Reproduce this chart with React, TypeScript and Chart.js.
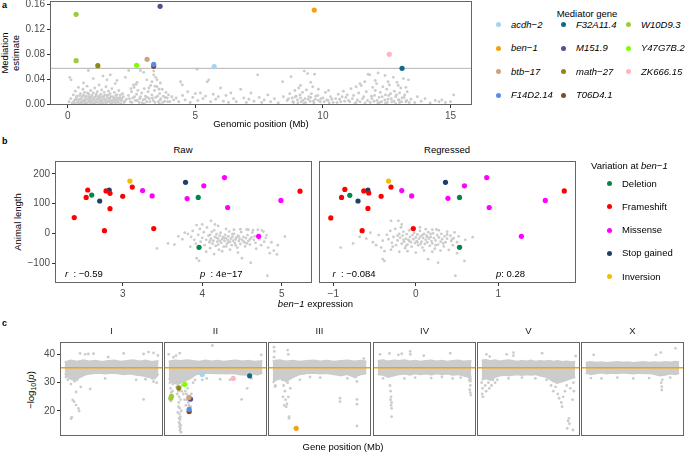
import React, { useEffect, useRef } from "react";
import { Chart, registerables } from "chart.js";
Chart.register(...registerables);

type Pt = [number, number];
const FONT = "'Liberation Sans', Arial, Helvetica, sans-serif";
const GREY = "#cccccc";
const TICK_TXT = "#4d4d4d";
const BORDER = "#666666";

// ---------------- Panel a data ----------------
const mediatorGenes = ["acdh−2", "ben−1", "btb−17", "F14D2.14", "F32A11.4", "M151.9", "math−27", "T06D4.1", "W10D9.3", "Y47G7B.2", "ZK666.15"];
const mediatorColors = ["#a6d4ef", "#f5a10f", "#c9a47e", "#5a8ee6", "#0e6b86", "#5c4b91", "#8b8b12", "#8b4526", "#9bcb3b", "#7fff00", "#ffb5c0"];

const mediationHitGene = ["W10D9.3", "W10D9.3", "M151.9", "ben−1", "math−27", "Y47G7B.2", "btb−17", "F14D2.14", "T06D4.1", "acdh−2", "ZK666.15", "F32A11.4"];
const mediationHitPos = [0.33, 0.33, 3.62, 9.66, 1.18, 2.7, 3.11, 3.37, 3.37, 5.74, 12.6, 13.1];
const mediationHitEst = [0.1436, 0.0696, 0.1563, 0.1504, 0.0616, 0.0622, 0.0718, 0.0638, 0.0606, 0.06, 0.0797, 0.0574];
const mediationThreshold = 0.0574;
const mediationXTicks = [0, 5, 10, 15];
const mediationYTicks = [0, 0.04, 0.08, 0.12, 0.16];

const mediationGrey: Pt[] = [
  [0.05,0.004],[0.12,0.009],[0.18,0.002],[0.22,0.015],[0.26,0.006],[0.3,0.021],[0.34,0.011],[0.38,0.003],[0.42,0.027],[0.45,0.008],[0.5,0.017],[0.53,0.004],[0.57,0.012],[0.6,0.024],[0.63,0.007],[0.66,0.019],[0.7,0.002],[0.73,0.013],[0.76,0.029],[0.8,0.009],[0.83,0.016],[0.86,0.005],[0.9,0.022],[0.93,0.011],[0.96,0.003],[1.0,0.018],[1.03,0.008],[1.06,0.026],[1.1,0.013],[1.13,0.004],[1.16,0.02],[1.2,0.01],[1.23,0.031],[1.26,0.006],[1.3,0.016],[1.33,0.023],[1.36,0.003],[1.4,0.012],[1.43,0.019],[1.46,0.007],[1.5,0.028],[1.53,0.014],[1.56,0.005],[1.6,0.021],[1.63,0.01],[1.66,0.017],[1.7,0.003],[1.73,0.025],[1.76,0.012],[1.8,0.007],[1.83,0.019],[1.86,0.033],[1.9,0.009],[1.93,0.015],[1.96,0.004],[2.0,0.022],[2.05,0.011],[2.1,0.006],[2.15,0.017],[2.2,0.003],
  [0.08,0.043],[0.13,0.039],[0.62,0.034],[0.81,0.054],[1.0,0.041],[1.38,0.045],[1.54,0.039],[1.67,0.047],[1.93,0.038],
  [0.28,0.001],[0.48,0.002],[0.68,0.006],[0.88,0.001],[1.08,0.002],[1.28,0.001],[1.48,0.003],[1.68,0.001],[1.88,0.002],[2.08,0.001],
  [0.24,0.004],[0.32,0.008],[0.36,0.013],[0.4,0.006],[0.44,0.002],[0.47,0.014],[0.52,0.009],[0.55,0.001],[0.59,0.005],[0.62,0.015],[0.65,0.003],[0.69,0.011],[0.72,0.007],[0.75,0.002],[0.78,0.018],[0.82,0.004],[0.85,0.012],[0.88,0.008],[0.92,0.004],[0.95,0.014],[0.98,0.007],[1.02,0.002],[1.05,0.011],[1.09,0.005],[1.12,0.016],[1.15,0.008],[1.18,0.003],[1.22,0.013],[1.25,0.009],[1.29,0.004],[1.32,0.012],[1.35,0.007],[1.39,0.002],[1.42,0.009],[1.45,0.014],[1.49,0.006],[1.52,0.002],[1.55,0.01],[1.59,0.015],[1.62,0.004],[1.65,0.008],[1.69,0.012],[1.72,0.006],[1.75,0.002],[1.79,0.011],[1.82,0.004],[1.85,0.009],[1.89,0.014],[1.92,0.006],[1.95,0.01],[1.99,0.003],[2.02,0.008],[2.06,0.015],[2.12,0.009],[2.18,0.012],[2.24,0.005],
  [2.3,0.008],[2.38,0.014],[2.45,0.004],[2.5,0.02],[2.55,0.01],[2.6,0.027],[2.65,0.006],[2.7,0.016],[2.75,0.022],[2.8,0.003],[2.85,0.012],[2.9,0.018],[2.95,0.007],[3.0,0.025],[3.05,0.013],[3.1,0.004],[3.15,0.02],[3.2,0.009],[3.25,0.03],[3.3,0.015],[3.35,0.006],[3.4,0.022],[3.45,0.011],[3.5,0.028],[3.55,0.004],[3.6,0.017],[3.65,0.009],[3.7,0.024],[3.75,0.013],[3.8,0.005],[3.85,0.019],[3.9,0.01],[3.95,0.015],[4.0,0.004],[4.08,0.012],[4.15,0.007],[3.0,0.001],[3.6,0.001],
  [2.42,0.009],[2.52,0.003],[2.62,0.012],[2.72,0.006],[2.82,0.009],[2.92,0.002],[3.02,0.008],[3.12,0.011],[3.22,0.004],[3.32,0.01],[3.42,0.003],[3.52,0.013],[3.62,0.007],[3.72,0.003],[3.82,0.011],[3.92,0.004],[2.48,0.025],[2.68,0.032],[3.18,0.026],[3.58,0.024],[3.42,0.029],
  [2.26,0.043],[2.39,0.054],[2.58,0.031],[2.85,0.054],[2.98,0.051],[3.1,0.039],[3.37,0.053],[3.37,0.047],[3.45,0.043],[3.5,0.039],[3.63,0.034],[3.3,0.036],[2.72,0.035],
  [4.25,0.01],[4.35,0.004],[4.42,0.036],[4.49,0.031],[4.5,0.014],[4.6,0.007],[4.7,0.02],[4.8,0.003],[4.9,0.011],[5.0,0.017],[5.07,0.056],[5.1,0.006],[5.2,0.018],[5.3,0.009],[5.4,0.013],[5.47,0.036],[5.53,0.039],[5.6,0.004],[5.7,0.016],[5.8,0.008],[5.9,0.012],[5.99,0.026],[6.1,0.005],[6.2,0.014],[6.3,0.003],[6.39,0.018],[6.5,0.009],
  [6.6,0.004],[6.78,0.024],[6.9,0.01],[7.0,0.003],[7.1,0.008],[7.18,0.018],[7.3,0.005],[7.44,0.047],[7.5,0.011],[7.6,0.003],[7.7,0.007],[7.84,0.015],[7.95,0.004],[8.1,0.009],[8.25,0.002],[8.42,0.036],[8.45,0.012],
  [8.6,0.006],[8.7,0.017],[8.75,0.044],[8.8,0.01],[8.85,0.003],[8.9,0.022],[8.95,0.013],[9.0,0.007],[9.05,0.026],[9.1,0.015],[9.15,0.004],[9.2,0.019],[9.27,0.053],[9.3,0.009],[9.35,0.023],[9.4,0.049],[9.45,0.012],[9.5,0.005],[9.55,0.017],[9.6,0.028],[9.67,0.048],[9.7,0.008],[9.8,0.014],[9.9,0.004],[10.0,0.01],[10.1,0.019],[10.2,0.006],[10.3,0.012],[10.4,0.003],[9.25,0.001],[9.65,0.002],
  [8.65,0.009],[8.82,0.004],[8.92,0.012],[9.02,0.002],[9.12,0.01],[9.22,0.006],[9.32,0.003],[9.42,0.008],[9.52,0.011],[9.62,0.005],[9.72,0.013],[9.82,0.006],[9.92,0.009],[10.05,0.004],[10.15,0.007],[10.25,0.002],[10.35,0.008],[9.12,0.03],[9.52,0.035],[9.82,0.024],[10.22,0.022],
  [10.5,0.009],[10.6,0.016],[10.7,0.004],[10.8,0.021],[10.9,0.011],[11.0,0.006],[11.1,0.025],[11.2,0.014],[11.3,0.003],[11.4,0.018],[11.5,0.03],[11.55,0.009],[11.64,0.036],[11.7,0.02],[11.77,0.048],[11.83,0.047],[11.9,0.013],[11.95,0.027],[12.0,0.005],[12.05,0.022],[12.1,0.033],[12.16,0.05],[12.2,0.011],[12.25,0.019],[12.3,0.004],[12.35,0.028],[12.43,0.046],[12.45,0.015],[12.5,0.024],[12.55,0.008],[12.6,0.031],[12.65,0.017],[12.7,0.004],[12.76,0.043],[12.8,0.021],[12.85,0.012],[12.9,0.035],[12.95,0.007],[13.0,0.018],[13.05,0.026],[13.1,0.01],[13.15,0.041],[13.2,0.015],[13.25,0.004],[13.35,0.039],[13.3,0.02],
  [10.55,0.003],[10.65,0.008],[10.75,0.012],[10.85,0.005],[10.95,0.015],[11.05,0.004],[11.15,0.009],[11.35,0.007],[11.45,0.004],[11.6,0.012],[11.75,0.006],[11.85,0.003],[11.92,0.009],[12.02,0.014],[12.12,0.006],[12.22,0.003],[12.32,0.012],[12.42,0.007],[12.52,0.003],[12.58,0.014],[12.68,0.009],[12.78,0.005],[12.88,0.015],[12.98,0.007],[13.08,0.004],[13.18,0.011],[13.28,0.006],[13.38,0.003],[11.3,0.028],[11.45,0.033],[12.05,0.038],[12.55,0.036],[12.95,0.03],[13.25,0.027],
  [11.25,0.001],[11.65,0.002],[12.15,0.001],[12.45,0.002],[12.85,0.001],[13.0,0.003],
  [13.45,0.008],[13.6,0.003],[13.7,0.012],[13.85,0.005],[14.0,0.009],[14.2,0.002],[14.4,0.006],[14.55,0.004],[14.66,0.007],[14.8,0.003],[15.12,0.015],[15.0,0.004],
];

// ---------------- Panel b data ----------------
const variationTypes = ["Deletion", "Frameshift", "Missense", "Stop gained", "Inversion"];
const variationColors = ["#00884a", "#ff0000", "#ff00ff", "#1f3f6b", "#f0c000"];

const rawDeletion: Pt[] = [[2.61,129],[3.95,121],[3.96,-47]];
const rawFrameshift: Pt[] = [[2.39,53],[2.54,121],[2.56,146],[2.77,9],[2.79,143],[2.84,135],[2.84,83],[3.12,156],[3.0,125],[3.39,16],[5.23,142]];
const rawMissense: Pt[] = [[3.25,144],[3.37,126],[3.81,117],[4.02,160],[4.28,188],[4.32,87],[4.71,-10],[4.99,111]];
const rawStop: Pt[] = [[2.71,109],[2.83,146],[3.79,172]];
const rawInversion: Pt[] = [[3.09,176]];

const regDeletion: Pt[] = [[-0.8,128],[0.53,121],[0.53,-47]];
const regFrameshift: Pt[] = [[-1.03,52],[-0.9,121],[-0.86,148],[-0.65,9],[-0.63,143],[-0.57,136],[-0.58,84],[-0.3,156],[-0.42,125],[-0.03,16],[1.8,143]];
const regMissense: Pt[] = [[-0.17,144],[-0.05,126],[0.39,118],[0.59,160],[0.86,188],[0.89,87],[1.28,-10],[1.57,111]];
const regStop: Pt[] = [[-0.7,109],[-0.58,146],[0.36,172]];
const regInversion: Pt[] = [[-0.33,176]];

const rawGrey: Pt[] = [
  [3.43,-51],[3.57,-34],[3.78,2],[3.93,28],[4.11,42],[4.16,30],[3.93,-84],[3.96,-93],[4.5,-84],[4.61,-99],[4.82,-143],[4.85,-67],[4.94,-71],[5.04,-11],[4.77,6],[4.81,-6],[4.64,11],[4.56,13],
  [3.82,-2],[3.86,-12],[3.88,8],[3.9,-22],[3.92,-35],[3.95,-5],[3.97,15],[3.98,-28],[4.0,-15],[4.02,4],[4.03,-40],[4.05,-22],[4.06,20],[4.08,-8],[4.09,-30],[4.1,-50],[4.11,-18],[4.12,5],[4.13,-35],[4.14,-25],[4.15,10],[4.16,-12],[4.17,-42],[4.18,-3],[4.19,-28],[4.2,-18],[4.21,-55],[4.22,-8],[4.23,2],[4.24,-32],[4.25,-20],[4.26,-12],[4.27,-45],[4.28,-25],[4.29,-5],[4.3,-16],[4.31,-35],[4.32,-22],[4.33,-10],[4.34,6],[4.35,-28],[4.36,-18],[4.37,-40],[4.38,-12],[4.39,-25],[4.4,-2],[4.41,-32],[4.42,-20],[4.43,-14],[4.44,-48],[4.45,-8],[4.46,-26],[4.47,-18],[4.48,-36],[4.49,4],[4.5,-22],[4.52,-12],[4.53,-30],[4.54,-44],[4.55,-16],[4.57,-6],[4.58,-26],[4.6,-38],[4.62,-14],[4.63,3],[4.65,-22],[4.67,-32],[4.68,-52],[4.7,-8],[4.72,-20],[4.74,-40],[4.75,10],[4.78,-28],[4.8,-15],[4.83,-48],[4.87,-30],[4.9,-58],[4.95,-40],
  [4.05,-62],[4.15,-70],[4.25,-60],[4.35,-55],[4.45,-65],[3.85,-45],[3.75,-20],[3.7,-10],[3.65,-38],[4.0,30],[4.2,25],[4.3,15],[4.4,12],[4.48,14],[4.58,12],[4.7,12],[4.2,-38],[4.3,-44],[4.1,-5],[4.22,-26],[4.28,-15],[4.33,-30],[4.38,-3],[4.42,-40],[4.46,-10],[4.52,-28],[4.56,-34],[4.6,-20],[4.66,-10],[4.1,-25],[4.18,-15],
];
const regGrey: Pt[] = [
  [-0.91,-48],[-0.76,-34],[-0.55,2],[-0.45,-6],[-0.4,-87],[-0.38,-93],[-0.3,42],[-0.21,42],[-0.17,30],[0.15,-87],[0.27,-99],[0.48,-143],[0.5,-67],[0.59,-93],[0.69,-13],[0.47,3],[0.25,13],[0.38,6],[-0.52,-30],[-0.6,-18],[-0.68,-12],[-0.48,-40],
  [-0.35,-5],[-0.33,-20],[-0.31,8],[-0.29,-32],[-0.27,-12],[-0.25,15],[-0.24,-40],[-0.22,-24],[-0.2,-2],[-0.19,-15],[-0.18,20],[-0.17,-35],[-0.16,-8],[-0.15,5],[-0.14,-28],[-0.13,-50],[-0.12,-18],[-0.11,-3],[-0.1,-38],[-0.09,-22],[-0.08,10],[-0.07,-12],[-0.06,-30],[-0.05,-45],[-0.04,-6],[-0.03,-20],[-0.02,2],[-0.01,-33],[0.0,-14],[0.01,-26],[0.02,-4],[0.03,-40],[0.04,-18],[0.05,8],[0.06,-10],[0.07,-28],[0.08,-48],[0.09,-16],[0.1,-2],[0.11,-36],[0.12,-22],[0.13,-8],[0.14,-30],[0.15,4],[0.16,-18],[0.17,-42],[0.18,-12],[0.19,-26],[0.2,-34],[0.21,0],[0.22,-16],[0.23,-52],[0.24,-24],[0.26,-6],[0.27,-38],[0.28,-14],[0.3,-28],[0.31,-2],[0.32,-20],[0.34,-44],[0.35,-10],[0.36,-30],[0.38,-18],[0.4,-56],[0.42,-8],[0.43,-26],[0.45,-40],[0.46,-16],[0.5,-30],[0.52,-10],[0.55,-45],[0.6,-22],
  [-0.4,-25],[-0.42,-48],[-0.38,-60],[-0.3,-55],[-0.2,-62],[-0.1,-60],[0.0,-65],[0.1,-58],[0.2,-62],[0.3,-58],[-0.05,15],[0.05,20],[0.12,14],[0.2,12],[0.28,10],[-0.28,-45],[-0.22,-8],[-0.15,-22],[-0.08,-26],[0.02,-30],[0.08,-6],[0.14,-12],[0.18,-2],[0.24,-40],[0.33,-34],[0.38,-4],[0.44,-20],[-0.12,-42],[0.06,-36],
];
const rawXTicks = [3, 4, 5];
const regXTicks = [-1, 0, 1];
const lengthYTicks = [-100, 0, 100, 200];

// ---------------- Panel c data ----------------
const chromosomes = ["I", "II", "III", "IV", "V", "X"];
const chromLengths = [15.07, 15.28, 13.78, 17.49, 20.92, 17.72];
const pThreshold = 35.3;
const pYTicks = [20, 30, 40];

const bandUpperI: Pt[] = [[0,37.2],[1,37.8],[2,37.4],[3,37.9],[4,37.5],[5,37.7],[6,37.3],[7,37.6],[8,37.8],[9,37.4],[10,37.6],[11,37.9],[12,37.5],[13,37.8],[14,37.3],[15.1,37.6]];
const bandLowerI: Pt[] = [[0,33.2],[0.8,31.5],[1.5,31.0],[2.5,32.0],[3.5,33.0],[4.5,33.3],[5.5,33.5],[6.5,33.2],[7.5,33.5],[8.5,33.3],[9.5,33.0],[10.5,33.2],[11.5,32.8],[12.5,32.5],[13.5,32.0],[14.5,31.5],[15.1,33.0]];
const bandUpperII: Pt[] = [[0,37.5],[1,37.8],[2,37.6],[3,37.9],[4,37.6],[5,37.4],[6,37.8],[7,37.5],[8,37.7],[9,37.4],[10,37.6],[11,37.8],[12,37.5],[13,37.7],[14,37.4],[15.3,37.6]];
const bandLowerII: Pt[] = [[0,31.5],[0.6,30],[1.5,29.5],[2.5,30.5],[3.5,31.5],[4.5,33],[5.5,33.3],[6.5,33.5],[7.5,33.3],[8.5,33.4],[9.5,33.2],[10.5,33.4],[11.5,33.0],[12.5,32.8],[13.5,33.2],[14.5,33.0],[15.3,33.4]];
const bandUpperIII: Pt[] = [[0,37.6],[1,37.9],[2,37.5],[3,37.7],[4,37.4],[5,37.6],[6,37.8],[7,37.5],[8,37.7],[9,37.4],[10,37.6],[11,37.8],[12,37.5],[13,37.7],[13.8,37.5]];
const bandLowerIII: Pt[] = [[0,30],[0.5,31],[1.2,31.5],[2,30.5],[3,32],[4,33],[5,33.3],[6,33.5],[7,33.2],[8,33.4],[9,33.0],[10,32.5],[11,33.0],[12,32.0],[13,33.0],[13.8,33.3]];
const bandUpperIV: Pt[] = [[0,37.6],[1,37.9],[2,37.5],[3,37.8],[4,37.6],[5,37.9],[6,37.5],[7,37.7],[8,37.4],[9,37.6],[10,37.8],[11,37.5],[12,37.7],[13,37.4],[14,37.6],[15,37.8],[16,37.5],[17.5,37.6]];
const bandLowerIV: Pt[] = [[0,33],[1,32.8],[2,32.0],[3,32.5],[4,33],[5,33.2],[6,32.8],[7,33.3],[8,33],[9,33.2],[10,32.9],[11,33.3],[12,33.0],[13,33.2],[14,32.8],[15,33.0],[16,32.5],[17,32.0],[17.5,31]];
const bandUpperV: Pt[] = [[0,37.8],[1,38],[2,37.6],[3,37.9],[4,37.5],[5,37.7],[6,37.9],[7,37.6],[8,37.4],[9,37.7],[10,37.5],[11,37.8],[12,37.4],[13,37.6],[14,37.5],[15,37.7],[16,37.4],[17,37.6],[18,37.3],[19,37.5],[20,37.2],[20.9,37.4]];
const bandLowerV: Pt[] = [[0,31],[1,31.5],[2,31.0],[3,32.0],[4,32.5],[5,32.8],[6,32.5],[7,32.8],[8,33.0],[9,32.7],[10,33.0],[11,32.8],[12,33.0],[13,32.5],[14,32.2],[15,31.5],[16,30.5],[17,30.0],[18,30.5],[19,31.0],[20,31.5],[20.9,32]];
const bandUpperX: Pt[] = [[0,37.0],[1,37.3],[2,37.0],[3,37.2],[4,36.9],[5,37.1],[6,37.3],[7,37.0],[8,37.2],[9,36.9],[10,37.1],[11,37.3],[12,37.0],[13,37.2],[14,37.0],[15,37.3],[16,37.1],[17,37.4],[17.7,37.2]];
const bandLowerX: Pt[] = [[0,33.5],[1,33.0],[2,33.3],[3,33.6],[4,33.2],[5,33.5],[6,33.3],[7,33.6],[8,33.4],[9,33.2],[10,33.5],[11,33.3],[12,33.4],[13,33.0],[14,32.5],[15,32.8],[16,33.2],[17,33.0],[17.7,33.4]];

const outliersI: Pt[] = [[1.13,17.8],[1.03,17.3],[1.29,23.9],[1.51,23.3],[1.83,22.1],[2.21,20.9],[2.32,20.0],[1.83,26.7],[2.6,28.5],[4.1,27.8],[1.0,29.5],[1.6,30.5],[2.0,31.0],[12.7,24.1],[14.1,31.5],[14.3,30.4],[2.48,40.3],[3.29,40.0],[3.8,40.1],[4.64,40.2],[9.49,40.3],[12.7,40.1],[13.5,40.8],[14.3,40.5],[15.0,39.6],[7.0,39.0],[11.5,31.0],[13.0,31.2],[6.5,31.5],[0.5,31.0],[0.2,32.0],[14.8,30.0]];
const outliersII: Pt[] = [[1.55,29],[1.6,27],[1.7,25],[1.65,23],[1.8,21],[1.75,19],[1.9,18],[1.85,17],[1.7,16],[1.8,15.5],[1.95,15],[1.75,14.5],[1.9,14],[1.85,13.2],[2.0,12.5],[1.7,17.5],[2.05,20],[1.6,21.5],[1.5,19.5],[1.95,24],[2.1,27],[1.4,26],[1.3,28.5],[2.2,29],[0.2,30],[0.3,28],[0.4,26.5],[0.5,25],[0.35,23.5],[0.6,27],[0.7,29.5],[1.0,31],[1.2,30],[2.5,31],[2.7,27],[2.9,26],[3.0,24],[3.2,23],[3.3,22],[3.4,21],[3.5,19.5],[3.6,21.5],[3.7,26],[3.1,28],[4.0,30],[4.3,31],[2.4,26],[2.6,24],[2.8,22],[0.01,40],[1.81,40.4],[7.13,43.1],[15.1,39.8],[11.9,24.1],[12.8,28],[10,31],[5.5,31],[6.2,31.5],[8.4,31.2],[13.5,31.5],[0.8,39],[1.2,39.5],[14.5,33]];
const outliersIII: Pt[] = [[0.2,42.5],[0.25,41],[2.2,41.5],[2.3,40],[0.2,39],[0.3,37],[0.25,34],[0.3,31],[0.4,29],[0.35,28.6],[0.5,32],[1.2,33],[1.4,31],[1.6,29],[1.8,27],[1.5,25],[1.9,24],[2.1,22.5],[2.0,21.5],[2.4,17.4],[2.4,18],[2.3,25],[2.6,28],[2.2,30],[1.7,22],[9.9,24.5],[9.9,23.3],[12.4,30.4],[12.4,24.1],[12.4,22.4],[12.4,14.7],[12.2,32],[11,31.5],[7,31.8],[5.5,32],[4,31],[13.4,38.5]];
const outliersIV: Pt[] = [[0.44,40],[2.2,40.3],[3.87,39.8],[4.5,40.2],[6.06,41],[6.1,40],[13.56,40.4],[8.6,39.5],[2.3,29],[2.4,27],[2.5,25],[2.6,23],[2.5,22],[2.6,20.9],[2.6,18],[2.4,24],[17.3,32],[17.3,30.5],[17.3,29],[17.2,27.5],[17.3,26.5],[17.4,25.6],[17.1,31],[5,31.5],[7,31.8],[10,31.6],[12,32],[14,31.5],[15.5,31.8],[1,31.5]];
const outliersV: Pt[] = [[1.06,40],[1.8,39.2],[5.6,40],[7.1,40.6],[7.1,39.5],[13.5,40.4],[21,39.4],[0.0,30],[0.2,28],[0.1,26],[0.3,25],[0.8,29],[1.0,27],[1.5,30],[1.7,28],[2.2,29],[2.5,31],[3,30],[3.5,31],[15.5,29],[16,27],[16.5,28.5],[17,26],[17.3,24.5],[17.8,23],[17.97,21.5],[18.2,25],[18.6,27],[19,29],[19.5,17.4],[19.3,16.5],[19.6,15.5],[19.1,13.9],[20.4,13.3],[20.3,24],[20.6,27],[20.5,30],[19.8,28],[16.8,30],[14.5,31],[12,31.5],[9,31.8],[6,31.5]];
const outliersX: Pt[] = [[1.5,39.8],[13.3,39.8],[14.2,40.6],[17.0,42.1],[14.4,27.4],[14.4,28.6],[14.3,30],[14.5,31],[3,31.5],[6,31.8],[9,31.5],[12,31.6],[16,31.8],[1,31.6]];

const bandUpper = [bandUpperI, bandUpperII, bandUpperIII, bandUpperIV, bandUpperV, bandUpperX];
const bandLower = [bandLowerI, bandLowerII, bandLowerIII, bandLowerIV, bandLowerV, bandLowerX];
const chromOutliers = [outliersI, outliersII, outliersIII, outliersIV, outliersV, outliersX];

const geneHitChrom = ["II", "II", "II", "II", "II", "II", "II", "II", "II", "II", "II", "III"];
const geneHitGene = ["acdh−2", "ZK666.15", "F32A11.4", "W10D9.3", "W10D9.3", "math−27", "Y47G7B.2", "btb−17", "M151.9", "F14D2.14", "T06D4.1", "ben−1"];
const geneHitPos = [5.48, 10.53, 13.21, 0.35, 0.45, 1.65, 2.63, 3.29, 3.57, 3.34, 3.34, 3.46];
const geneHitP = [32.9, 31.5, 32.4, 24.5, 25.2, 28.1, 29.4, 24.8, 24.2, 20.6, 19.8, 13.9];

// ---------------- helpers ----------------
const toXY = (pts: Pt[]) => pts.map(([x, y]) => ({ x, y }));
const scatterSet = (pts: Pt[], color: string, r: number, order: number) => ({
  type: "scatter",
  data: toXY(pts),
  backgroundColor: color,
  borderColor: color,
  borderWidth: 0,
  pointRadius: r,
  order,
});
const hLine = (y: number, x0: number, x1: number, color: string, order: number, w = 1) => ({
  type: "line",
  data: [{ x: x0, y }, { x: x1, y }],
  borderColor: color,
  borderWidth: w,
  pointRadius: 0,
  fill: false,
  tension: 0,
  order,
});
const geneColor = (g: string) => mediatorColors[mediatorGenes.indexOf(g)];
const minus = (v: number) => String(v).replace("-", "−");

const boxPlugin = {
  id: "panelBox",
  afterDatasetsDraw(chart: any) {
    const { ctx, chartArea: a } = chart;
    ctx.save();
    ctx.strokeStyle = BORDER;
    ctx.lineWidth = 1;
    ctx.strokeRect(Math.round(a.left) + 0.5, Math.round(a.top) + 0.5, Math.round(a.right - a.left) - 1, Math.round(a.bottom - a.top) - 1);
    ctx.restore();
  },
};

const ML = 46, MT = 10, MR = 16, MB = 22;

function axis(pos: "left" | "bottom", min: number, max: number, ticks?: number[], fmt?: (v: number) => string) {
  const o: any = {
    type: "linear",
    position: pos,
    min,
    max,
    afterFit: (s: any) => {
      if (pos === "left") s.width = ML;
      else s.height = MB;
    },
    ticks: {
      display: !!ticks,
      autoSkip: false,
      maxRotation: 0,
      minRotation: 0,
      padding: 2,
      color: TICK_TXT,
      font: { family: FONT, size: 10 },
      callback: (v: number) => (fmt ? fmt(v) : minus(v)),
    },
    grid: {
      display: !!ticks,
      drawOnChartArea: false,
      drawTicks: true,
      tickLength: 3,
      tickColor: "#333333",
      tickWidth: 1,
      color: "#333333",
    },
    border: { display: false },
  };
  if (ticks) o.afterBuildTicks = (s: any) => { s.ticks = ticks.map((v) => ({ value: v })); };
  return o;
}

interface PlotProps {
  left: number; top: number; width: number; height: number;
  xr: [number, number]; yr: [number, number];
  xTicks?: number[]; yTicks?: number[];
  xFmt?: (v: number) => string; yFmt?: (v: number) => string;
  make: () => any[];
}

function Plot(p: PlotProps) {
  const ref = useRef<HTMLCanvasElement>(null);
  const W = p.width + ML + MR;
  const H = p.height + MT + MB;
  useEffect(() => {
    const chart = new Chart(ref.current as HTMLCanvasElement, {
      type: "scatter",
      data: { datasets: p.make() as any },
      options: {
        animation: false,
        responsive: false,
        maintainAspectRatio: false,
        devicePixelRatio: 1,
        events: [],
        layout: { padding: { left: 0, top: MT, right: MR, bottom: 0 } },
        plugins: { legend: { display: false }, tooltip: { enabled: false } },
        scales: {
          x: axis("bottom", p.xr[0], p.xr[1], p.xTicks, p.xFmt),
          y: axis("left", p.yr[0], p.yr[1], p.yTicks, p.yFmt),
        },
      } as any,
      plugins: [boxPlugin],
    });
    return () => chart.destroy();
  }, []);
  return (
    <canvas
      ref={ref}
      width={W}
      height={H}
      style={{ position: "absolute", left: p.left - ML, top: p.top - MT, width: W, height: H }}
    />
  );
}

function Txt(props: { x: number; y: number; children: any; align?: "left" | "center" | "right"; size?: number; bold?: boolean; rotate?: boolean; color?: string; italic?: boolean }) {
  const { x, y, children, align = "left", size = 9.5, bold = false, rotate = false, color = "#000", italic = false } = props;
  const tx = align === "left" ? "0" : align === "center" ? "-50%" : "-100%";
  return (
    <div
      style={{
        position: "absolute",
        left: x,
        top: y,
        transform: rotate ? "translate(-50%,-50%) rotate(-90deg)" : `translate(${tx},-50%)`,
        fontSize: size,
        fontFamily: FONT,
        fontWeight: bold ? 700 : 400,
        fontStyle: italic ? "italic" : "normal",
        color,
        whiteSpace: "nowrap",
        lineHeight: 1.15,
        textAlign: "center",
      }}
    >
      {children}
    </div>
  );
}

function Dot({ x, y, color, d = 5 }: { x: number; y: number; color: string; d?: number }) {
  return <div style={{ position: "absolute", left: x - d / 2, top: y - d / 2, width: d, height: d, borderRadius: "50%", background: color }} />;
}

// ---------------- layout ----------------
const A_BOX = { left: 50, top: 1, width: 422, height: 104 };
const B_RAW = { left: 55, top: 161, width: 257, height: 122 };
const B_REG = { left: 319, top: 161, width: 257, height: 122 };
const C_LEFTS = [60, 164, 268, 373, 477, 581];
const C_TOP = 342, C_W = 103, C_H = 94;

const legendACols = [[0, 1, 2, 3], [4, 5, 6, 7], [8, 9, 10]];
const legendAColX = [498, 563, 628];
const legendARowY = [24.5, 48, 71.5, 95];
const legendBRowY = [183.5, 206.8, 230, 253.3, 276.6];

export default function App() {
  const rawSets = [rawDeletion, rawFrameshift, rawMissense, rawStop, rawInversion];
  const regSets = [regDeletion, regFrameshift, regMissense, regStop, regInversion];
  return (
    <div style={{ position: "absolute", left: 0, top: 0, width: 685, height: 453, background: "#fff", overflow: "hidden", fontFamily: FONT }}>
      {/* Panel a */}
      <Txt x={2} y={5} bold size={9}>a</Txt>
      <Txt x={11} y={53} rotate>
        <div>Mediation</div>
        <div>estimate</div>
      </Txt>
      <Plot
        {...A_BOX}
        xr={[-0.693, 15.84]}
        yr={[-0.0011, 0.1648]}
        xTicks={mediationXTicks}
        yTicks={mediationYTicks}
        yFmt={(v) => v.toFixed(2)}
        make={() => [
          ...mediationHitGene.map((g, i) => scatterSet([[mediationHitPos[i], mediationHitEst[i]]], geneColor(g), 2.6, 0)),
          hLine(mediationThreshold, -0.693, 15.84, "#b3b3b3", 5),
          scatterSet(mediationGrey, GREY, 1.45, 10),
        ]}
      />
      <Txt x={261} y={124} align="center">Genomic position (Mb)</Txt>
      <Txt x={587} y={14} align="center">Mediator gene</Txt>
      {legendACols.map((col, ci) =>
        col.map((gi, ri) => (
          <React.Fragment key={`la${gi}`}>
            <Dot x={legendAColX[ci]} y={legendARowY[ri]} color={mediatorColors[gi]} />
            <Txt x={legendAColX[ci] + 13} y={legendARowY[ri]} italic>{mediatorGenes[gi]}</Txt>
          </React.Fragment>
        ))
      )}

      {/* Panel b */}
      <Txt x={2} y={141} bold size={9}>b</Txt>
      <Txt x={183} y={150} align="center">Raw</Txt>
      <Txt x={447} y={150} align="center">Regressed</Txt>
      <Txt x={18} y={222} rotate>Animal length</Txt>
      <Plot
        {...B_RAW}
        xr={[2.148, 5.381]}
        yr={[-167.4, 243.8]}
        xTicks={rawXTicks}
        yTicks={lengthYTicks}
        make={() => [
          ...rawSets.map((s, i) => scatterSet(s, variationColors[i], 2.6, 0)),
          scatterSet(rawGrey, GREY, 1.4, 10),
        ]}
      />
      <Plot
        {...B_REG}
        xr={[-1.173, 1.942]}
        yr={[-167.4, 243.8]}
        xTicks={regXTicks}
        make={() => [
          ...regSets.map((s, i) => scatterSet(s, variationColors[i], 2.6, 0)),
          scatterSet(regGrey, GREY, 1.4, 10),
        ]}
      />
      <Txt x={65} y={273.5}><i>r</i>&nbsp;&nbsp;: −0.59</Txt>
      <Txt x={200} y={273.5}><i>p</i>&nbsp;&nbsp;: 4e−17</Txt>
      <Txt x={332.5} y={273.5}><i>r</i>&nbsp;&nbsp;: −0.084</Txt>
      <Txt x={496} y={273.5}><i>p</i>: 0.28</Txt>
      <Txt x={315.5} y={304} align="center"><i>ben−1</i> expression</Txt>
      <Txt x={591} y={166}>Variation at <i>ben−1</i></Txt>
      {variationTypes.map((v, i) => (
        <React.Fragment key={`lb${i}`}>
          <Dot x={609} y={legendBRowY[i]} color={variationColors[i]} />
          <Txt x={622} y={legendBRowY[i]}>{v}</Txt>
        </React.Fragment>
      ))}

      {/* Panel c */}
      <Txt x={2} y={323} bold size={9}>c</Txt>
      <Txt x={31.5} y={390} rotate>
        <span>−log<sub style={{ fontSize: 7, verticalAlign: "-2px" }}>10</sub>(<i>p</i>)</span>
      </Txt>
      {chromosomes.map((c, i) => {
        const L = chromLengths[i];
        const xr: [number, number] = [-0.05 * L, 1.05 * L];
        return (
          <React.Fragment key={c}>
            <Txt x={C_LEFTS[i] + C_W / 2} y={330.7} align="center" color="#1a1a1a">{c}</Txt>
            <Plot
              left={C_LEFTS[i]}
              top={C_TOP}
              width={C_W}
              height={C_H}
              xr={xr}
              yr={[11.18, 44.34]}
              yTicks={i === 0 ? pYTicks : undefined}
              make={() => {
                const hits = geneHitChrom.map((hc, k) => ({ hc, k })).filter((h) => h.hc === c);
                return [
                  ...hits.map(({ k }) => scatterSet([[geneHitPos[k], geneHitP[k]]], geneColor(geneHitGene[k]), 2.6, 0)),
                  hLine(pThreshold, xr[0], xr[1], "#f5a300", 2, 1.5),
                  scatterSet(chromOutliers[i], GREY, 1.4, 8),
                  {
                    type: "line",
                    data: toXY(bandUpper[i]),
                    borderColor: GREY,
                    backgroundColor: GREY,
                    borderWidth: 2,
                    pointRadius: 0,
                    tension: 0,
                    fill: "+1",
                    order: 12,
                  },
                  {
                    type: "line",
                    data: toXY(bandLower[i]),
                    borderColor: GREY,
                    backgroundColor: GREY,
                    borderWidth: 2,
                    pointRadius: 0,
                    tension: 0,
                    fill: false,
                    order: 12,
                  },
                ];
              }}
            />
          </React.Fragment>
        );
      })}
      <Txt x={343} y={447} align="center">Gene position (Mb)</Txt>
    </div>
  );
}
